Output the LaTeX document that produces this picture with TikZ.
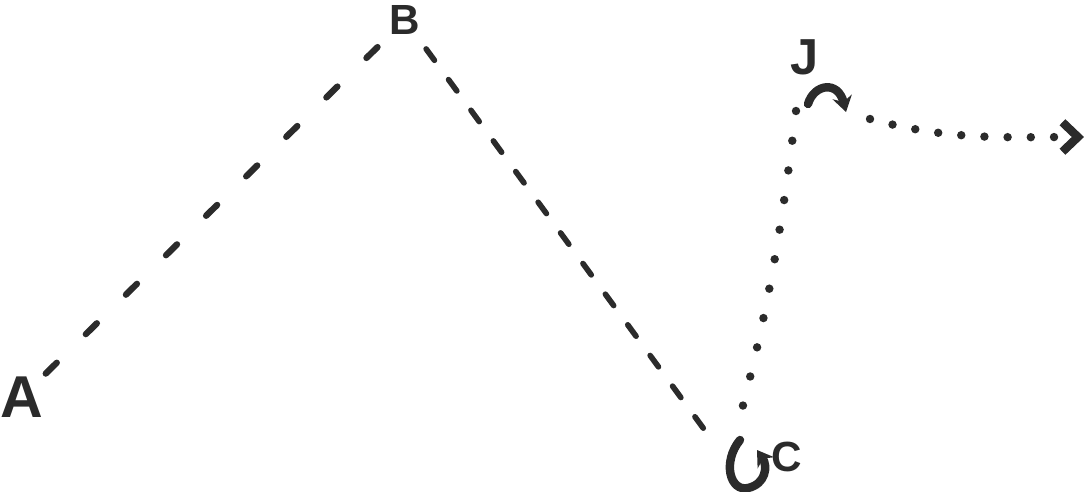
\documentclass[tikz,border=0pt]{standalone}
\usepackage{fontspec}
\setsansfont{Liberation Sans}
\usepackage{tikz}
\usetikzlibrary{arrows.meta, positioning}
\definecolor{inkgray}{HTML}{2B2B2B}
\tikzset{
  longdash/.style={line width=4.5pt, line cap=round, inkgray, dash pattern=on 11pt off 29pt},
  shortdash/.style={line width=4pt, line cap=round, inkgray, dash pattern=on 10pt off 17pt},
  dotline/.style={line width=6pt, line cap=round, inkgray, dash pattern=on 0pt off 21.3pt},
  exitdots/.style={line width=6pt, line cap=round, inkgray, dash pattern=on 0pt off 16.5pt},
  turnarr/.style={line width=6pt, line cap=round, inkgray, -{Stealth[length=11pt, width=14pt]}},
  vlabel/.style={font=\sffamily\bfseries\fontsize{30}{30}\selectfont, text=inkgray, inner sep=2pt},
}

\begin{document}
\begin{tikzpicture}[x=0.025cm, y=-0.025cm]
  \useasboundingbox (0,0) rectangle (1084,492);

  % corner labels
  \node[vlabel, font=\sffamily\bfseries\fontsize{42}{42}\selectfont] (A) at (22,397) {A};
  \node[vlabel] (B) at (405,20) {B};
  \node[vlabel] (C) at (787,457) {C};
  \node[vlabel, font=\sffamily\bfseries\fontsize{36}{36}\selectfont] (J) at (805,57) {J};

  % turning points and free end
  \coordinate (Cv) at (728,462);
  \coordinate (Jv) at (796,111);
  \coordinate (Jout) at (870,119);
  \coordinate (out) at (1084,137);

  % legs of the route
  \draw[longdash] (A) -- (B);
  \draw[shortdash, shorten <=10pt, shorten >=19pt] (B) -- (Cv);
  \draw[dotline, shorten >=22pt] (Jv) to[bend left=4] (Cv);
  \draw[exitdots, -{Straight Barb[length=11pt, width=21pt]}] (Jout) to[out=-15, in=180] (out);

  % turn marks
  \draw[turnarr] (740,440) .. controls (722,462) and (730,492) .. (748,488) .. controls (766,484) and (768,466) .. (757,450);
  \draw[turnarr] (808,104) .. controls (814,84) and (838,80) .. (846,112);
\end{tikzpicture}
\end{document}
